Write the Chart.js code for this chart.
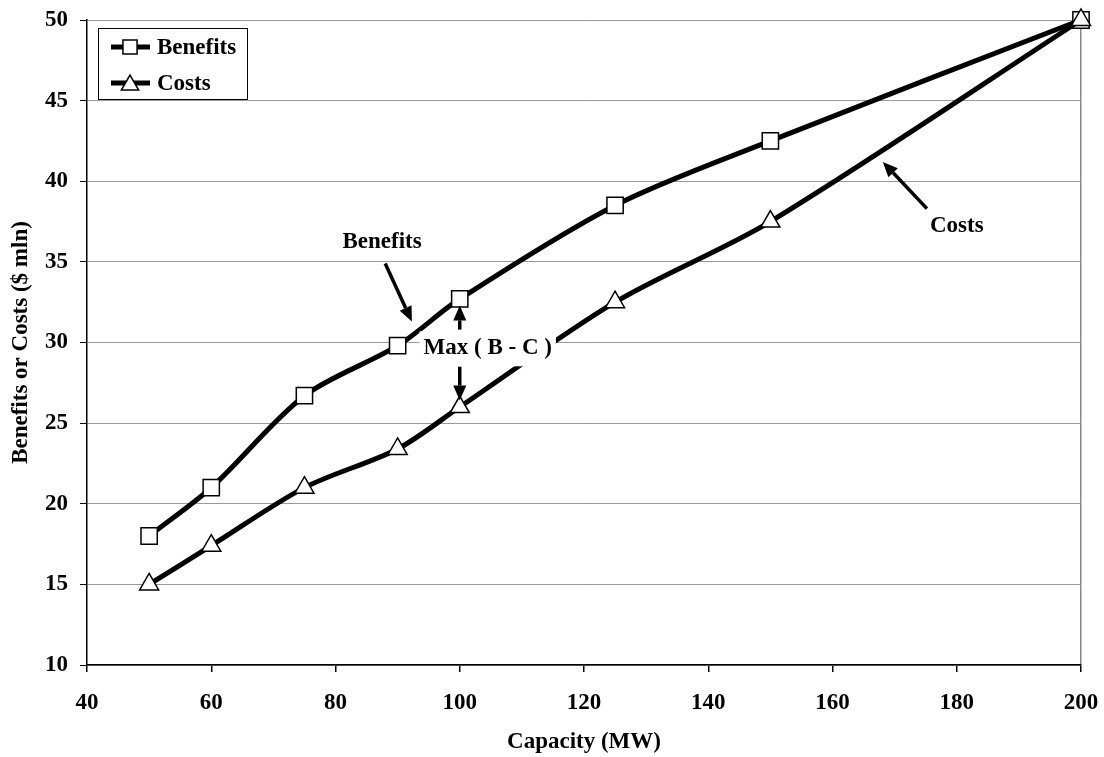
<!DOCTYPE html>
<html>
<head>
<meta charset="utf-8">
<script src="https://cdn.jsdelivr.net/npm/chart.js@4/dist/chart.umd.min.js"></script>
<style>
  body { margin: 0; background: #fff; }
  canvas { display: block; }
</style>
</head>
<body>
<canvas id="myChart" width="1104" height="757"></canvas>
<script>
// capacity options (MW) and their values ($ mln)
const capacity = [50, 60, 75, 90, 100, 125, 150, 200];
const benefits = [18, 21, 26.7, 29.8, 32.7, 38.5, 42.5, 50];
const costs = [15, 17.4, 21, 23.4, 26, 32.5, 37.5, 50];

const seriesNames = ['Benefits', 'Costs'];
const xTitle = 'Capacity (MW)';
const yTitle = 'Benefits or Costs ($ mln)';

// callouts in data units: [label, labelX, labelY, arrowFromX, arrowFromY, arrowToX, arrowToY]
const benefitsNote = ['Benefits', 87.5, 36.2, 88, 34.9, 92.3, 31.3];
const costsNote = ['Costs', 180, 37.2, 175.2, 38.3, 168.1, 41.2];
// Max (B - C) label with arrows up to benefits and down to costs at 100 MW
const maxNote = ['Max ( B - C )', 104.5, 29.7];
const maxArrowUp = [100, 30.8, 100, 32.3];
const maxArrowDown = [100, 28.5, 100, 26.4];

const FONT = "'Liberation Serif', 'Times New Roman', serif";
const font = {family: FONT, size: 23, weight: 'bold'};

function toPoints(ys) {
  return capacity.map((c, i) => ({x: c, y: ys[i]}));
}

function arrow(ctx, x1, y1, x2, y2) {
  const ang = Math.atan2(y2 - y1, x2 - x1);
  const head = 15, half = 6.5;
  const bx = x2 - head * Math.cos(ang), by = y2 - head * Math.sin(ang);
  ctx.save();
  ctx.strokeStyle = '#000';
  ctx.fillStyle = '#000';
  ctx.lineWidth = 3.5;
  ctx.beginPath();
  ctx.moveTo(x1, y1);
  ctx.lineTo(bx, by);
  ctx.stroke();
  ctx.beginPath();
  ctx.moveTo(x2, y2);
  ctx.lineTo(bx + half * Math.sin(ang), by - half * Math.cos(ang));
  ctx.lineTo(bx - half * Math.sin(ang), by + half * Math.cos(ang));
  ctx.closePath();
  ctx.fill();
  ctx.restore();
}

// callout texts and arrows, drawn over the lines
const notes = {
  id: 'notes',
  afterDatasetsDraw(chart) {
    const ctx = chart.ctx;
    const xs = chart.scales.x, ys = chart.scales.y;
    const px = v => xs.getPixelForValue(v);
    const py = v => ys.getPixelForValue(v);
    ctx.save();
    ctx.font = 'bold 23px ' + FONT;
    ctx.textAlign = 'center';
    ctx.textBaseline = 'middle';
    ctx.fillStyle = '#000';
    [benefitsNote, costsNote].forEach(n => {
      ctx.fillText(n[0], px(n[1]), py(n[2]));
      arrow(ctx, px(n[3]), py(n[4]), px(n[5]), py(n[6]));
    });
    // boxed max label
    const mx = px(maxNote[1]), my = py(maxNote[2]);
    const w = ctx.measureText(maxNote[0]).width + 8;
    ctx.fillStyle = '#fff';
    ctx.fillRect(mx - w / 2, my - 16, w, 35);
    ctx.fillStyle = '#000';
    ctx.fillText(maxNote[0], mx, my + 1);
    arrow(ctx, px(maxArrowUp[0]), py(maxArrowUp[1]), px(maxArrowUp[2]), py(maxArrowUp[3]));
    arrow(ctx, px(maxArrowDown[0]), py(maxArrowDown[1]), px(maxArrowDown[2]), py(maxArrowDown[3]));
    ctx.restore();
  }
};

// framed legend in the top left corner of the plot
const boxLegend = {
  id: 'boxLegend',
  afterDraw(chart) {
    const ctx = chart.ctx;
    const left = chart.chartArea.left + 11, top = chart.chartArea.top + 8;
    ctx.save();
    ctx.fillStyle = '#fff';
    ctx.fillRect(left, top, 149, 71);
    ctx.strokeStyle = '#000';
    ctx.lineWidth = 1;
    ctx.strokeRect(left + 0.5, top + 0.5, 149, 71);
    chart.data.datasets.forEach((ds, i) => {
      const y = top + 19 + i * 36;
      ctx.strokeStyle = '#000';
      ctx.lineWidth = 5;
      ctx.beginPath();
      ctx.moveTo(left + 13, y);
      ctx.lineTo(left + 52, y);
      ctx.stroke();
      ctx.fillStyle = '#fff';
      ctx.lineWidth = 1.5;
      Chart.helpers.drawPoint(ctx, {pointStyle: ds.pointStyle, radius: 10, borderWidth: 1.5, rotation: 0}, left + 32, y + (ds.pointStyle === 'triangle' ? 2 : 0));
      ctx.fillStyle = '#000';
      ctx.font = 'bold 23px ' + FONT;
      ctx.textBaseline = 'middle';
      ctx.textAlign = 'left';
      ctx.fillText(ds.label, left + 59, y + 1);
    });
    ctx.restore();
  }
};

const ctx = document.getElementById('myChart');
new Chart(ctx, {
  type: 'line',
  data: {
    datasets: [
      {label: seriesNames[0], data: toPoints(benefits), pointStyle: 'rect', pointRadius: 11.5, order: 1},
      {label: seriesNames[1], data: toPoints(costs), pointStyle: 'triangle', pointRadius: 11, order: 0}
    ].map(d => Object.assign({
      borderColor: '#000',
      borderWidth: 5,
      backgroundColor: '#fff',
      pointBackgroundColor: '#fff',
      pointBorderColor: '#000',
      pointBorderWidth: 1.5,
      tension: 0.3,
      clip: false,
      fill: false
    }, d))
  },
  options: {
    responsive: false,
    animation: false,
    layout: {padding: {top: 20, right: 23, bottom: 0, left: 0}},
    plugins: {
      legend: {display: false},
      tooltip: {enabled: false}
    },
    scales: {
      x: {
        type: 'linear',
        min: 40,
        max: 200,
        ticks: {stepSize: 20, color: '#000', font: font, padding: 17, maxRotation: 0},
        grid: {
          color: c => c.tick && c.tick.value === 200 ? '#888' : 'transparent',
          lineWidth: 1.5,
          tickColor: '#000',
          tickLength: 7,
          drawOnChartArea: true
        },
        border: {color: '#000', width: 1.5},
        title: {display: true, text: xTitle, color: '#000', font: font, padding: {top: 0, bottom: 1}},
        afterFit: s => { s.height = 92; s.paddingLeft = 0; s.paddingRight = 0; }
      },
      y: {
        min: 10,
        max: 50,
        ticks: {stepSize: 5, color: '#000', font: font, padding: 12},
        grid: {color: '#999', lineWidth: 1, tickColor: '#000', tickLength: 7},
        border: {color: '#000', width: 1.5},
        title: {display: true, text: yTitle, color: '#000', font: font, padding: {top: 7, bottom: 0}},
        afterFit: s => { s.width = 87; s.paddingTop = 0; s.paddingBottom = 0; }
      }
    }
  },
  plugins: [notes, boxLegend]
});
</script>
</body>
</html>
